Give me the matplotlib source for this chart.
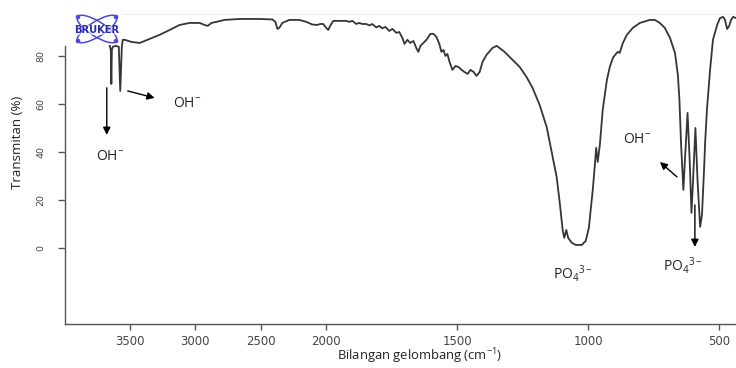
import numpy as np
import matplotlib
matplotlib.use("Agg")
import matplotlib.pyplot as plt
from matplotlib.patches import Ellipse, Circle
from matplotlib.lines import Line2D

plt.rcParams['mathtext.fontset'] = 'custom'
plt.rcParams['mathtext.rm'] = 'Open Sans'
plt.rcParams['mathtext.it'] = 'Open Sans'
plt.rcParams['mathtext.default'] = 'regular'

# ---- data ----
wavenumber = [3653, 3645, 3641, 3637, 3630, 3607, 3584, 3573, 3561, 3554,
              3538, 3485, 3424, 3348, 3272, 3196, 3120, 3043, 2967, 2929,
              2906, 2876, 2838, 2777, 2663, 2510, 2411, 2388, 2373, 2358,
              2335, 2282, 2206, 2152, 2107, 2069, 2046, 2023, 2000, 1992,
              1985, 1973, 1950, 1923, 1912, 1900, 1885, 1874, 1862, 1847,
              1835, 1824, 1809, 1797, 1786, 1774, 1759, 1747, 1732, 1721,
              1709, 1701, 1690, 1679, 1667, 1656, 1648, 1640, 1629, 1617,
              1602, 1590, 1579, 1568, 1560, 1552, 1545, 1537, 1529, 1518,
              1506, 1495, 1483, 1472, 1460, 1449, 1437, 1426, 1414, 1403,
              1388, 1365, 1349, 1338, 1319, 1288, 1261, 1235, 1212, 1185,
              1158, 1135, 1120, 1108, 1097, 1091, 1083, 1076, 1062, 1047,
              1024, 1009, 997, 990, 982, 974, 969, 963, 955, 944,
              928, 917, 905, 894, 886, 879, 867, 852, 829, 802,
              764, 745, 726, 707, 687, 668, 657, 651, 645, 636,
              630, 620, 612, 605, 599, 590, 582, 572, 565, 557,
              553, 546, 534, 523, 507, 496, 484, 477, 469, 461,
              454, 446, 435]
transmittance = [84.2, 82.5, 68.3, 82.5, 83.8, 84.2, 83.8, 65.4, 83.8, 86.7,
                 86.7, 85.8, 85.4, 87.1, 88.8, 90.8, 92.9, 93.75, 93.75, 92.9,
                 92.5, 93.75, 94.2, 95.0, 95.4, 95.4, 95.2, 94.2, 91.25, 91.7,
                 93.75, 95.0, 95.0, 94.2, 93.1, 92.9, 93.3, 93.3, 91.7, 90.8,
                 92.5, 94.6, 94.6, 94.6, 94.2, 94.6, 93.3, 93.75, 93.3, 93.3,
                 92.7, 93.3, 91.9, 92.5, 91.5, 92.1, 90.4, 91.25, 89.6, 90.0,
                 87.5, 85.0, 86.7, 85.4, 86.25, 83.3, 81.7, 84.2, 85.4, 86.7,
                 89.2, 89.2, 87.9, 85.0, 81.7, 82.5, 80.0, 80.8, 77.5, 74.2,
                 75.8, 75.4, 74.2, 73.3, 72.5, 74.2, 73.3, 71.7, 73.3, 77.5,
                 80.4, 83.3, 84.2, 83.3, 81.7, 78.3, 75.4, 71.25, 66.7, 59.6,
                 50.4, 37.9, 29.6, 18.75, 7.5, 4.2, 7.5, 4.2, 2.1, 1.25,
                 1.25, 2.9, 8.3, 15.8, 24.2, 34.6, 41.7, 35.8, 42.9, 57.5,
                 70.0, 75.4, 79.2, 80.8, 81.7, 81.25, 85.4, 88.75, 91.7, 93.75,
                 95.0, 95.0, 93.75, 91.7, 87.5, 81.25, 72.1, 61.7, 43.75, 24.2,
                 36.7, 56.25, 36.7, 14.6, 28.3, 50.0, 28.3, 8.75, 13.75, 32.5,
                 43.75, 57.5, 74.2, 86.7, 92.9, 95.8, 96.25, 95.0, 91.25, 92.5,
                 95.0, 96.25, 95.8]
x_ticks = [3500, 3000, 2500, 2000, 1500, 1000, 500]
y_ticks = [0, 20, 40, 60, 80]

W, H = 736, 368
fig = plt.figure(figsize=(W / 100, H / 100), dpi=100)
ax = fig.add_axes([65 / W, 1 - 324 / H, 1 - 65 / W, 324 / H])


def fwd(w):
    w = np.asarray(w, dtype=float)
    return np.where(w > 2000, 2000 + (w - 2000) / 2.0, w)


def inv(u):
    u = np.asarray(u, dtype=float)
    return np.where(u > 2000, 2000 + (u - 2000) * 2.0, u)


ax.set_xscale('function', functions=(fwd, inv))
ax.plot(wavenumber, transmittance, color='#353535', lw=1.3, solid_joinstyle='round')
ax.set_xlim(3995, 435)
ax.set_ylim(-31.7, 103.3)

ax.set_xticks(x_ticks)
ax.set_xticklabels([str(t) for t in x_ticks])
ax.set_yticks(y_ticks)
ax.set_yticklabels([str(t) for t in y_ticks])
ax.minorticks_off()

for s in ['top', 'right']:
    ax.spines[s].set_visible(False)
ax.spines['left'].set_bounds(-31.7, 84.2)
for s in ['left', 'bottom']:
    ax.spines[s].set_color('#555555')
    ax.spines[s].set_linewidth(1.0)

ax.tick_params(axis='x', direction='out', length=4, width=1, color='#555555',
               labelsize=8.5, labelcolor='#444444', pad=4)
ax.tick_params(axis='y', direction='out', length=5, width=1, color='#555555',
               labelsize=6.8, labelcolor='#444444', pad=9, labelrotation=90)
for lbl in ax.get_yticklabels():
    lbl.set_va('center')

# annotations
ann_font = dict(fontsize=10, family=['Open Sans', 'DejaVu Sans'], color='#222222')
arrow = dict(arrowstyle='-|>', color='black', lw=1.0, mutation_scale=11, shrinkA=0, shrinkB=0)

ax.annotate('', xy=(3676, 47.1), xytext=(3676, 66.7), arrowprops=arrow)
ax.text(3653, 38.3, r'OH$^{-}$', ha='center', va='center', **ann_font)
ax.annotate('', xy=(3310, 62.5), xytext=(3516, 65.4), arrowprops=arrow)
ax.text(3066, 60.0, r'OH$^{-}$', ha='center', va='center', **ann_font)
ax.text(1059, -10.6, r'PO$_4$$^{3-}$', ha='center', va='center', **ann_font)
ax.text(814, 45.0, r'OH$^{-}$', ha='center', va='center', **ann_font)
ax.annotate('', xy=(725.6, 35.8), xytext=(660.6, 29.6), arrowprops=arrow)
ax.annotate('', xy=(592, 0.4), xytext=(592, 17.9), arrowprops=arrow)
ax.text(638, -7.5, r'PO$_4$$^{3-}$', ha='center', va='center', **ann_font)

# axis titles
fig.text(420 / W, 1 - 366.5 / H, r'Bilangan gelombang (cm$^{-1}$)', ha='center', va='bottom',
         fontsize=9.4, family=['Open Sans', 'DejaVu Sans'], color='#222222')
fig.text(18 / W, 1 - 142 / H, 'Transmitan (%)', ha='center', va='center', rotation=90,
         fontsize=9.5, family=['Open Sans', 'DejaVu Sans'], color='#222222')

# faint frame line at the top
fig.add_artist(Line2D([122 / W, 1], [1 - 14 / H, 1 - 14 / H], color='#eeeeee', lw=0.8,
                      transform=fig.transFigure))

# Bruker logo
cx, cy = 97, 29
logo_col = '#4a4ad6'
for ang in (32, -32):
    e = Ellipse((cx, H - cy), 46, 15, angle=ang, fill=False, ec=logo_col, lw=1.1,
                transform=None)
    fig.add_artist(e)
for dx, dy in ((-19, -12), (19, 12), (-19, 12), (19, -12)):
    fig.add_artist(Circle((cx + dx, H - cy + dy), 1.6, color=logo_col, transform=None))
fig.text(cx / W, 1 - (cy + 1) / H, 'BRUKER', ha='center', va='center', fontsize=7.2,
         fontweight='bold', color='#2c2cb0', family='DejaVu Sans',
         bbox=dict(facecolor='white', edgecolor='none', pad=0.3, alpha=0.6))

fig.savefig('out.png', dpi=100)
